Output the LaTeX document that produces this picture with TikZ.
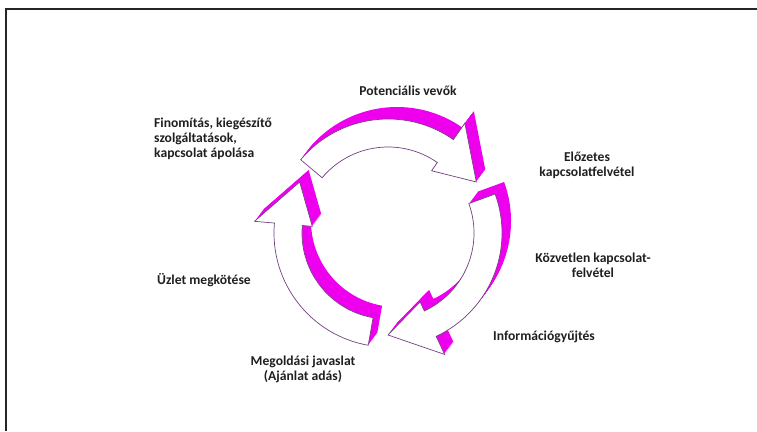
\documentclass[tikz,border=0pt]{standalone}
\usepackage{fontspec}
\setmainfont{Carlito}
\definecolor{mag}{RGB}{238,0,238}
\definecolor{edgec}{RGB}{115,65,130}
\begin{document}
\begin{tikzpicture}[x=1pt,y=1pt,
  lbl/.style={font=\bfseries\fontsize{13.6}{15}\selectfont, text=black!88, inner sep=0pt, align=center},
  face/.style={draw=edgec, line width=0.7pt, fill=white, line join=miter},
  extr/.style={fill=mag}]
\useasboundingbox (0,0) rectangle (757,431);
\fill[white] (0,0) rectangle (757,431);
\draw[line width=2pt, black!85] (5.7,0) -- (5.7,422.3) -- (757,422.3);

\def\Ro{114}\def\Ri{86}\def\Rbo{134}\def\Rbi{76}\def\Rt{102}
\begin{scope}[shift={(388,198)}]
\foreach \T in {260,20,140}{
  \pgfmathsetmacro\B{\T-85}
  \pgfmathsetmacro\P{\T-110}
  \foreach \s in {12,11,...,1}{
    \path[extr, shift={(0.75*\s,\s)}] (\T:\Ro) arc[start angle=\T, end angle=\B, radius=\Ro] -- (\B:\Rbo) -- (\P:\Rt) -- (\B:\Rbi) -- (\B:\Ri) arc[start angle=\B, end angle=\T, radius=\Ri] -- cycle;
  }
  \path[face] (\T:\Ro) arc[start angle=\T, end angle=\B, radius=\Ro] -- (\B:\Rbo) -- (\P:\Rt) -- (\B:\Rbi) -- (\B:\Ri) arc[start angle=\B, end angle=\T, radius=\Ri] -- cycle;
}
\end{scope}

\node[lbl] (pot) at (408,340) {Potenciális vevők};
\node[lbl, anchor=west, align=left] (fin) at (154,292) {Finomítás, kiegészítő\\szolgáltatások,\\kapcsolat ápolása};
\node[lbl] (elo) at (587,266) {Előzetes\\kapcsolatfelvétel};
\node[lbl] (koz) at (593,166) {Közvetlen kapcsolat-\\felvétel};
\node[lbl] (inf) at (544,94) {Információgyűjtés};
\node[lbl] (meg) at (303,61.5) {Megoldási javaslat\\(Ajánlat adás)};
\node[lbl, anchor=west] (uzl) at (157,151) {Üzlet megkötése};
\end{tikzpicture}
\end{document}
